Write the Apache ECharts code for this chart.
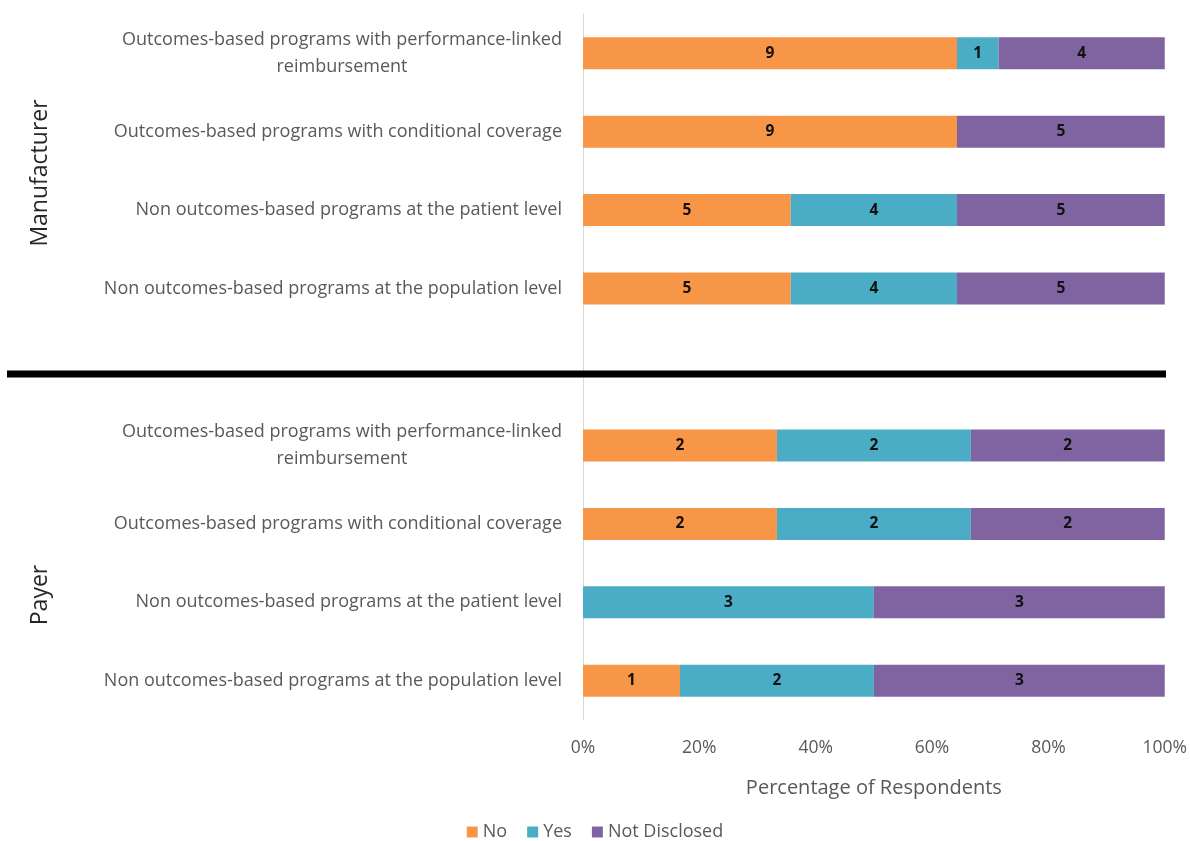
<!DOCTYPE html>
<html>
<head>
<meta charset="utf-8">
<script src="https://cdn.jsdelivr.net/npm/echarts@6/dist/echarts.min.js"></script>
<style>
  html, body { margin: 0; padding: 0; background: #fff; }
  #chart { width: 1190px; height: 841px; }
</style>
</head>
<body>
<div id="chart"></div>
<script>
// Program types, top to bottom; the empty entry leaves a gap between the two respondent groups
const categories = [
  'Outcomes-based programs with performance-linked\nreimbursement',
  'Outcomes-based programs with conditional coverage',
  'Non outcomes-based programs at the patient level',
  'Non outcomes-based programs at the population level',
  '',
  'Outcomes-based programs with performance-linked\nreimbursement',
  'Outcomes-based programs with conditional coverage',
  'Non outcomes-based programs at the patient level',
  'Non outcomes-based programs at the population level'
];
const groupNames = ['Manufacturer', 'Payer'];
const seriesNames = ['No', 'Yes', 'Not Disclosed'];

// Respondent counts per row (null for the gap row)
const noCounts           = [9, 9, 5, 5, null, 2, 2, 0, 1];
const yesCounts          = [1, 0, 4, 4, null, 2, 2, 3, 2];
const notDisclosedCounts = [4, 5, 5, 5, null, 2, 2, 3, 3];

const xTicks = [0, 20, 40, 60, 80, 100];
const colors = ['#F79646', '#4BACC6', '#8064A2'];

const countSets = [noCounts, yesCounts, notDisclosedCounts];
const totals = categories.map((_, i) =>
  countSets.reduce((s, arr) => s + (arr[i] || 0), 0));

const series = countSets.map((arr, k) => ({
  name: seriesNames[k],
  type: 'bar',
  stack: 'share',
  barWidth: 32,
  itemStyle: { color: colors[k] },
  label: {
    show: true,
    position: 'inside',
    color: '#111',
    fontFamily: 'Open Sans',
    fontWeight: 'bold',
    fontSize: 15.5,
    formatter: p => (p.data && p.data.count > 0) ? String(p.data.count) : ''
  },
  data: arr.map((c, i) => (c == null || totals[i] === 0)
    ? { value: null, count: null }
    : { value: c / totals[i] * 100, count: c })
}));

const chart = echarts.init(document.getElementById('chart'));
chart.setOption({
  backgroundColor: '#ffffff',
  animation: false,
  textStyle: { fontFamily: 'Open Sans' },
  grid: { left: 583, right: 25, top: 14, bottom: 121, containLabel: false },
  legend: {
    bottom: -5,
    left: 'center',
    itemWidth: 11,
    itemHeight: 11,
    itemGap: 20,
    icon: 'rect',
    textStyle: { color: '#595959', fontSize: 18, fontFamily: 'Open Sans' },
    data: seriesNames
  },
  xAxis: {
    type: 'value',
    min: xTicks[0],
    max: xTicks[xTicks.length - 1],
    interval: xTicks[1] - xTicks[0],
    axisLine: { show: false },
    axisTick: { show: false },
    splitLine: { show: false },
    axisLabel: {
      color: '#595959',
      fontSize: 17.5,
      margin: 19,
      formatter: v => v + '%'
    },
    name: 'Percentage of Respondents',
    nameLocation: 'middle',
    nameGap: 58,
    nameTextStyle: { color: '#595959', fontSize: 20 }
  },
  yAxis: {
    type: 'category',
    inverse: true,
    data: categories,
    axisLine: { show: true, lineStyle: { color: '#d9d9d9', width: 1 } },
    axisTick: { show: false },
    axisLabel: {
      interval: 0,
      margin: 21,
      color: '#595959',
      fontSize: 18,
      lineHeight: 27,
      formatter: v => v.indexOf('\n') >= 0
        ? v.split('\n').map(line => '{c|' + line + '}').join('\n')
        : v,
      rich: {
        c: { width: 440, align: 'center', color: '#595959', fontSize: 18, lineHeight: 27 }
      }
    }
  },
  graphic: [
    {
      type: 'line',
      shape: { x1: 7, y1: 374, x2: 1166, y2: 374 },
      style: { stroke: '#000', lineWidth: 7 },
      z: 100
    },
    {
      type: 'text',
      x: 40, y: 173,
      rotation: Math.PI / 2,
      style: {
        text: groupNames[0], fill: '#262626', fontSize: 23,
        fontFamily: 'Open Sans', align: 'center', verticalAlign: 'middle'
      }
    },
    {
      type: 'text',
      x: 40, y: 595,
      rotation: Math.PI / 2,
      style: {
        text: groupNames[1], fill: '#262626', fontSize: 23,
        fontFamily: 'Open Sans', align: 'center', verticalAlign: 'middle'
      }
    }
  ],
  series: series
});
</script>
</body>
</html>
